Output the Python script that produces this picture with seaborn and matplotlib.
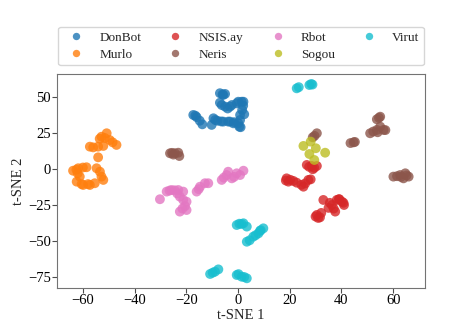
import pandas as pd
import matplotlib
matplotlib.use("Agg")
import matplotlib.pyplot as plt
import seaborn as sns

# t-SNE embedding, one pair of lists per family
donbot_x = [-17.3, -16.5, -16.0, -14.8, -13.8, -7.0, -5.0, -6.0, -5.7, -6.3, -5.0, -3.1, -2.4, -0.5, 1.4,
            2.1, 0.1, -9.5, -8.8, -8.0, -6.5, -5.7, -3.8, -3.1, -1.8, 0.1, 0.5, 0.8, 0.8, -10.2,
            1.6, 2.0, -4.0, -1.5, 1.0, -7.0, 2.4]
donbot_y = [37.5, 37.0, 36.0, 33.5, 31.0, 52.6, 52.1, 51.8, 51.4, 44.4, 43.3, 43.3, 44.4, 45.6, 46.7,
            46.7, 46.7, 35.2, 34.0, 33.5, 33.0, 32.9, 32.9, 32.9, 31.7, 31.7, 29.4, 34.0, 37.5, 30.6,
            41.0, 44.0, 42.0, 32.5, 29.0, 46.0, 38.0]

murlo_x = [-57.3, -56.0, -54.1, -52.1, -50.8, -51.5, -52.8, -49.6, -48.5, -47.0, -54.1, -63.8,
           -62.5, -61.8, -60.0, -58.6, -61.2, -62.0, -62.4, -60.5, -59.9, -57.3, -55.4, -54.7,
           -53.4, -52.8, -52.1, -58.0, -53.5]
murlo_y = [15.5, 15.0, 15.5, 16.0, 24.8, 21.5, 22.4, 20.1, 18.5, 16.7, 8.1, -1.2,
           -0.5, 0.5, 1.0, 1.2, -5.3, -3.0, -8.8, -10.5, -11.1, -11.1, -9.9, 0.5,
           -1.9, -5.3, -7.6, -10.5, 21.0]

nsis_x = [26.6, 28.5, 30.5, 28.9, 27.5, 29.5, 18.8, 19.5, 20.2, 21.4, 22.7, 25.3, 24.5, 27.2, 28.1,
          18.5, 26.0, 33.0, 36.3, 35.5, 37.6, 37.0, 38.2, 39.2, 40.2, 41.0, 30.5, 31.7, 32.2, 31.0,
          35.0, 39.0, 30.0, 40.8]
nsis_y = [2.8, 2.1, 2.1, -0.2, 1.5, 0.8, -6.5, -8.8, -7.5, -8.3, -9.5, -12.3, -11.0, -7.6, -7.2,
          -8.0, -10.0, -21.5, -25.0, -23.5, -29.6, -27.5, -21.5, -21.0, -22.7, -25.0, -31.9, -33.6, -30.5, -34.0,
          -27.0, -21.0, -33.0, -23.5]

neris_x = [-26.3, -25.5, -24.4, -23.1, -22.7, -25.0, 30.5, 29.6, 28.9, 44.7, 43.5, 45.2, 55.0, 53.7,
           54.5, 51.1, 52.3, 53.7, 56.3, 55.0, 57.0, 54.0, 60.1, 61.5, 62.7, 63.0, 64.7, 66.0, 64.0,
           65.2]
neris_y = [10.9, 11.2, 10.9, 11.3, 9.0, 10.0, 24.8, 23.0, 22.0, 18.5, 18.0, 18.8, 36.3, 34.5,
           35.5, 24.8, 26.0, 27.1, 27.1, 29.4, 27.0, 25.5, -5.3, -5.0, -4.2, -5.5, -3.0, -5.3, -6.5,
           -4.5]

rbot_x = [-30.2, -27.6, -26.5, -25.7, -24.5, -23.1, -21.2, -23.5, -22.5, -21.2, -19.9, -20.5, -22.5,
          -21.5, -19.9, -16.0, -15.2, -14.7, -12.8, -11.5, -6.3, -5.5, -4.4, -2.4, -0.5, 0.8,
          2.1, -3.8, -1.5]
rbot_y = [-21.0, -15.7, -15.0, -14.6, -14.8, -14.6, -15.7, -17.0, -19.2, -21.5, -22.7, -25.8, -29.6,
          -27.5, -28.5, -15.7, -14.0, -12.3, -9.9, -9.9, -7.6, -6.0, -4.2, -6.5, -3.0, -4.2,
          -1.2, -1.9, -5.5]

sogou_x = [25.3, 28.1, 30.1, 27.6, 33.7, 29.5]
sogou_y = [16.0, 19.0, 14.4, 10.4, 11.3, 6.25]

virut_x = [22.7, 23.5, 27.6, 28.3, 28.8, -0.5, 0.5, 1.4, 3.4, 2.1, 9.8, 8.8, 7.9, 5.9, 3.4,
           4.5, 8.5, 6.8, -10.8, -9.8, -8.9, -7.6, -0.5, 1.4, 3.4, 0.2, 2.4]
virut_y = [56.0, 56.8, 58.3, 59.0, 58.6, -38.9, -38.0, -38.2, -40.0, -37.7, -41.2, -42.5, -44.7, -47.0, -50.5,
           -49.5, -43.0, -46.0, -72.9, -72.0, -71.3, -69.7, -73.6, -74.8, -75.9, -73.0, -75.0]

families = ["DonBot", "Murlo", "NSIS.ay", "Neris", "Rbot", "Sogou", "Virut"]
xs = [donbot_x, murlo_x, nsis_x, neris_x, rbot_x, sogou_x, virut_x]
ys = [donbot_y, murlo_y, nsis_y, neris_y, rbot_y, sogou_y, virut_y]
colors = ["tab:blue", "tab:orange", "tab:red", "tab:brown", "tab:pink", "tab:olive", "tab:cyan"]

rows = []
for name, fx, fy in zip(families, xs, ys):
    for a, b in zip(fx, fy):
        rows.append({"t-SNE 1": a, "t-SNE 2": b, "family": name})
df = pd.DataFrame(rows)

sns.set_style("ticks")
plt.rcParams["font.family"] = ["Liberation Serif", "DejaVu Serif"]
plt.rcParams["font.size"] = 10.5

fig = plt.figure(figsize=(4.49, 3.36), dpi=100)
ax = fig.add_axes([0.127, 0.143, 0.820, 0.637])
sns.scatterplot(data=df, x="t-SNE 1", y="t-SNE 2", hue="family", hue_order=families,
                palette=dict(zip(families, colors)), s=50, alpha=0.8, linewidth=0, ax=ax)

ax.set_xlim(-70, 72.4)
ax.set_ylim(-82.6, 66)
ax.set_xticks([-60, -40, -20, 0, 20, 40, 60])
ax.set_yticks([-75, -50, -25, 0, 25, 50])
ax.set_xlabel("t-SNE 1", labelpad=1)
ax.set_ylabel("t-SNE 2", labelpad=2)
for sp in ax.spines.values():
    sp.set_color("0.45")
ax.tick_params(colors="0.3", length=3.5, width=0.8, pad=1)
ax.tick_params(axis="both", labelcolor="black")

handles, labels = ax.get_legend_handles_labels()
ax.legend(handles, labels, ncol=4, loc="lower center", bbox_to_anchor=(0.5, 1.01),
          frameon=True, handletextpad=0.75, columnspacing=1.6, markerscale=0.75,
          fontsize=9.5, borderpad=0.35, labelspacing=0.35)

fig.savefig("out.png", dpi=100)
